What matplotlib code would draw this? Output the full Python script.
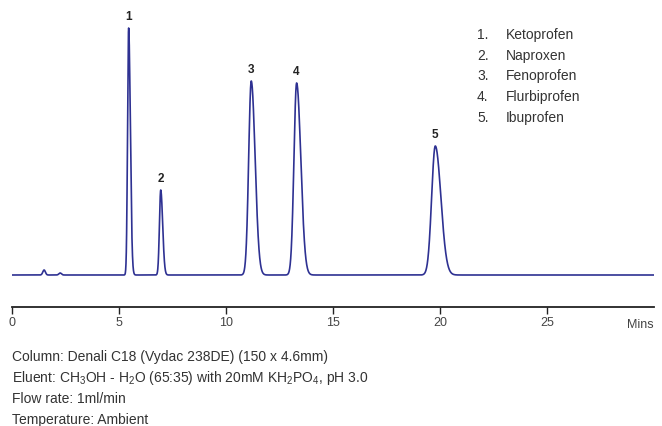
## chromatogram of five profens on a Denali C18 column

import numpy as np
import matplotlib.pyplot as plt

plt.rcParams['font.family'] = ['Liberation Sans', 'DejaVu Sans']

# peak table (time in min, height in arbitrary units)
peak_labels = ['1', '2', '3', '4', '5']
peak_names = ['Ketoprofen', 'Naproxen', 'Fenoprofen', 'Flurbiprofen', 'Ibuprofen']
peak_times = [5.45, 6.95, 11.18, 13.30, 19.78]
peak_heights = [247, 85, 194, 192, 129]
peak_sigma_front = [0.050, 0.060, 0.120, 0.125, 0.170]
peak_sigma_tail = [0.080, 0.090, 0.180, 0.195, 0.260]

# small solvent bumps near the start
bump_times = [1.5, 2.25]
bump_heights = [5, 2]
bump_sigma = [0.06, 0.06]

x_ticks = [0, 5, 10, 15, 20, 25]

info_lines = [
    'Column: Denali C18 (Vydac 238DE) (150 x 4.6mm)',
    r'Eluent: CH$_\mathregular{3}$OH - H$_\mathregular{2}$O (65:35) with 20mM KH$_\mathregular{2}$PO$_\mathregular{4}$, pH 3.0',
    'Flow rate: 1ml/min',
    'Temperature: Ambient',
]

t = np.linspace(0, 30, 6000)
signal = np.zeros_like(t)
for tr, h, sf, st in zip(peak_times, peak_heights, peak_sigma_front, peak_sigma_tail):
    s = np.where(t < tr, sf, st)
    signal += h * np.exp(-0.5 * ((t - tr) / s) ** 2)
for tr, h, s in zip(bump_times, bump_heights, bump_sigma):
    signal += h * np.exp(-0.5 * ((t - tr) / s) ** 2)

fig = plt.figure(figsize=(6.62, 4.26), dpi=100)
ax = fig.add_axes([12 / 662, (426 - 307) / 426, 642 / 662, 297 / 426])
ax.plot(t, signal, color='#2e3192', linewidth=1.2)
ax.set_xlim(0, 30)
ax.set_ylim(-32, 265)

for lab, tr, h in zip(peak_labels, peak_times, peak_heights):
    ax.text(tr, h + 5, lab, ha='center', va='bottom', fontsize=8.5,
            fontweight='bold', color='#222222')

for sp in ['top', 'left', 'right']:
    ax.spines[sp].set_visible(False)
ax.spines['bottom'].set_linewidth(1.3)
ax.spines['bottom'].set_color('#222222')
ax.set_yticks([])
ax.set_xticks(x_ticks)
ax.tick_params(axis='x', direction='out', length=5, width=1, color='#222222',
               labelsize=9, labelcolor='#444444', pad=2)
ax.text(1.0, -0.04, 'Mins', transform=ax.transAxes, ha='right', va='top',
        fontsize=9, color='#444444')

# compound list
for i, (lab, name) in enumerate(zip(peak_labels, peak_names)):
    yy = 1 - (35 + i * 20.7) / 426
    fig.text(477 / 662, yy, lab + '.', ha='left', va='center', fontsize=10, color='#333333')
    fig.text(506 / 662, yy, name, ha='left', va='center', fontsize=10, color='#333333')

# run conditions
for i, line in enumerate(info_lines):
    yy = 1 - (357 + i * 21) / 426
    fig.text(12 / 662, yy, line, ha='left', va='center', fontsize=10, color='#333333')

plt.savefig('out.png', dpi=100)
